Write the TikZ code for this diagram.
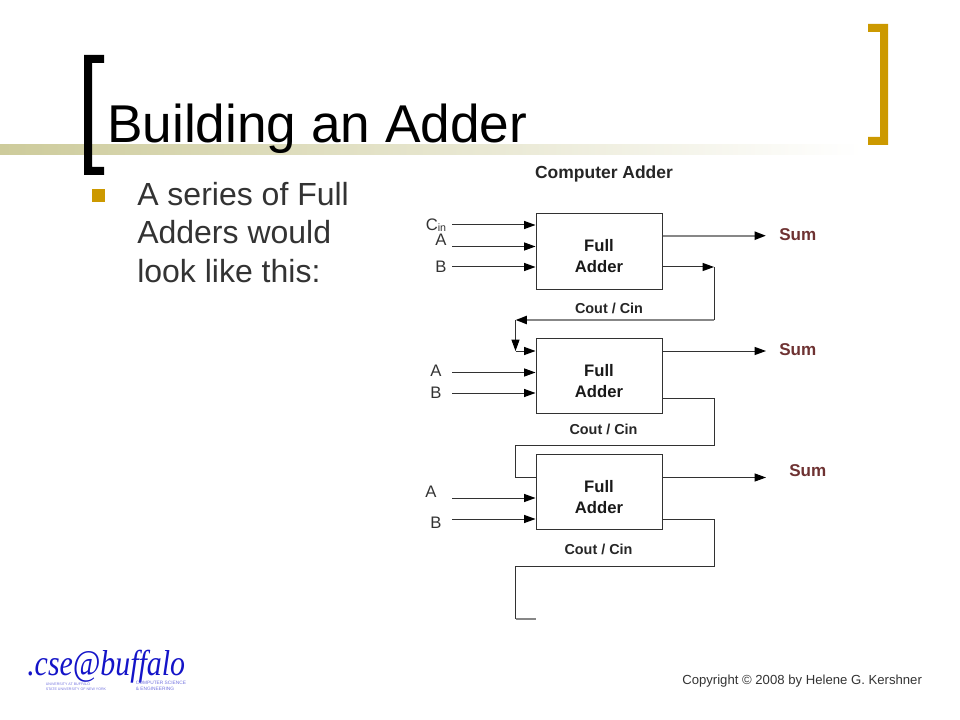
\documentclass[tikz,border=0pt]{standalone}
\usepackage{fontspec}
\setmainfont{Liberation Sans}
\newfontfamily\logofont{Liberation Serif}
\usetikzlibrary{arrows.meta,shadings}
\definecolor{olivebar}{RGB}{205,203,155}
\definecolor{goldbr}{RGB}{204,153,0}
\definecolor{sumred}{RGB}{110,50,50}
\definecolor{logoblue}{RGB}{20,20,200}
\definecolor{wire}{RGB}{50,50,50}
\definecolor{wiregray}{RGB}{135,135,135}
\tikzset{
  adder/.style={draw=wire,line width=0.75pt,minimum width=94.5pt,minimum height=56.5pt,inner sep=0pt},
  addertext/.style={inner sep=0pt,align=center,font=\fontsize{12.5}{15.8}\selectfont\bfseries,text=black!90},
  wireline/.style={draw=wire,line width=0.75pt},
  solidtip/.tip={Triangle[length=8.5pt,width=6pt,black]},
  arrowline/.style={wireline,-solidtip},
  palewire/.style={draw=wiregray,line width=1.6pt},
  inlabel/.style={inner sep=0pt,font=\fontsize{12.5}{15}\selectfont,text=black!80},
  sumlabel/.style={inner sep=0pt,font=\fontsize{12.8}{14}\selectfont\bfseries,text=sumred},
  coutlabel/.style={inner sep=0pt,font=\fontsize{10.8}{12}\selectfont\bfseries,text=black!85},
  bodytext/.style={inner sep=0pt,anchor=base west,font=\fontsize{24}{28}\selectfont,text=black!80}
}
\begin{document}
\begin{tikzpicture}[x=0.75pt,y=-0.75pt]
\useasboundingbox (0,0) rectangle (960,720);
% header bar
\shade[left color=olivebar,right color=white,draw=none] (0,145) rectangle (862,155);
% brackets
\fill[black] (84,55) -- (104,55) -- (104,63) -- (92,63) -- (92,167) -- (104,167) -- (104,175) -- (84,175) -- cycle;
\fill[goldbr] (868,24) -- (888,24) -- (888,145) -- (868,145) -- (868,137) -- (880,137) -- (880,32) -- (868,32) -- cycle;
% title and body
\node[inner sep=0pt,anchor=base west,font=\fontsize{39.9}{44}\selectfont,text=black] (title) at (107,143) {Building an Adder};
\fill[goldbr] (92,189) rectangle (105,202);
\node[bodytext] (l1) at (137,205.5) {A series of Full};
\node[bodytext] (l2) at (137,244) {Adders would};
\node[bodytext] (l3) at (137,282) {look like this:};
% diagram
\node[inner sep=0pt,font=\fontsize{13.1}{15}\selectfont\bfseries,text=black!85] (head) at (604,173.5) {Computer Adder};
\node[adder] (fa1) at (599,251.5) {};
\node[adder] (fa2) at (599,376) {};
\node[adder] (fa3) at (599,491.8) {};
\node[addertext,yshift=-3.7pt] (fa1t) at (fa1.center) {Full\\Adder};
\node[addertext,yshift=-3.7pt] (fa2t) at (fa2.center) {Full\\Adder};
\node[addertext,yshift=-3.7pt] (fa3t) at (fa3.center) {Full\\Adder};
% input ends and labels
\node[inlabel,anchor=west] (cin) at (425.5,225) {C\raisebox{-0.5pt}{\fontsize{8}{10}\selectfont in}};
\node[inlabel] (a1) at (441,240) {A};
\node[inlabel] (b1) at (441,267) {B};
\node[inlabel] (a2) at (436,371) {A};
\node[inlabel] (b2) at (436,392.5) {B};
\node[inlabel] (a3) at (431,492) {A};
\node[inlabel] (b3) at (436,523) {B};
\coordinate (cinS) at (452,225);
\coordinate (a1S) at (452,246.5);
\coordinate (b1S) at (452,267);
\coordinate (a2S) at (452,372.5);
\coordinate (b2S) at (452,393);
\coordinate (a3S) at (452,498);
\coordinate (b3S) at (452,519);
\coordinate (s1E) at (766,235.7);
\coordinate (s2E) at (766,351);
\coordinate (s3E) at (766,477.5);
\draw[arrowline] (cinS) -- (cinS -| fa1.west);
\draw[arrowline] (a1S) -- (a1S -| fa1.west);
\draw[arrowline] (b1S) -- (b1S -| fa1.west);
\draw[arrowline] (a2S) -- (a2S -| fa2.west);
\draw[arrowline] (b2S) -- (b2S -| fa2.west);
\draw[arrowline] (a3S) -- (a3S -| fa3.west);
\draw[arrowline] (b3S) -- (b3S -| fa3.west);
% sums
\node[sumlabel,anchor=west] (sum1) at (779,235) {Sum};
\node[sumlabel,anchor=west] (sum2) at (779,350) {Sum};
\node[sumlabel,anchor=west] (sum3) at (789,471) {Sum};
\draw[palewire,-solidtip] (s1E -| fa1.east) -- (s1E);
\draw[arrowline] (s2E -| fa2.east) -- (s2E);
\draw[arrowline] (s3E -| fa3.east) -- (s3E);
% carries
\coordinate (c1a) at (714,267);
\coordinate (c1b) at (714,320);
\coordinate (c1c) at (515.5,320);
\coordinate (c1d) at (515.5,351);
\coordinate (c2a) at (714,398.5);
\coordinate (c2b) at (714,445.5);
\coordinate (c2c) at (515.5,445.5);
\coordinate (c2d) at (515.5,477.5);
\coordinate (c3a) at (714,519);
\coordinate (c3b) at (714,566);
\coordinate (c3c) at (515.5,566);
\coordinate (c3d) at (515.5,619);
\coordinate (c3e) at (536,619);
\draw[arrowline] (c1a -| fa1.east) -- (c1a);
\draw[wireline] (c1a) -- (c1b);
\draw[palewire,-solidtip] (c1b) -- (c1c);
\draw[arrowline] (c1c) -- (c1d);
\draw[arrowline] (c1d) -- (c1d -| fa2.west);
\draw[wireline] (c2a -| fa2.east) -- (c2a) -- (c2b) -- (c2c) -- (c2d) -- (c2d -| fa3.west);
\draw[wireline] (c3a -| fa3.east) -- (c3a) -- (c3b) -- (c3c) -- (c3d);
\draw[palewire] (c3d) -- (c3e);
\node[coutlabel] (cc1) at (609,308.5) {Cout / Cin};
\node[coutlabel] (cc2) at (603.5,429) {Cout / Cin};
\node[coutlabel] (cc3) at (598.5,549.5) {Cout / Cin};
% logo
\node[inner sep=0pt,anchor=base west,text=logoblue,font=\logofont\fontsize{27}{30}\selectfont\itshape] (logo) at (27,675) {\scalebox{0.83}[1]{.cse@buffalo}};
\node[inner sep=0pt,text=logoblue!60,align=left,font=\fontsize{2.7}{3.6}\selectfont] (logoa) at (76,687) {UNIVERSITY AT BUFFALO\\STATE UNIVERSITY OF NEW YORK};
\node[inner sep=0pt,text=logoblue!60,align=left,font=\fontsize{3.6}{4.4}\selectfont] (logob) at (161,686) {COMPUTER SCIENCE\\\& ENGINEERING};
% footer
\node[inner sep=0pt,anchor=base west,font=\fontsize{9.85}{11}\selectfont,text=black!80] (copy) at (682,684) {Copyright © 2008 by Helene G. Kershner};
\end{tikzpicture}
\end{document}
